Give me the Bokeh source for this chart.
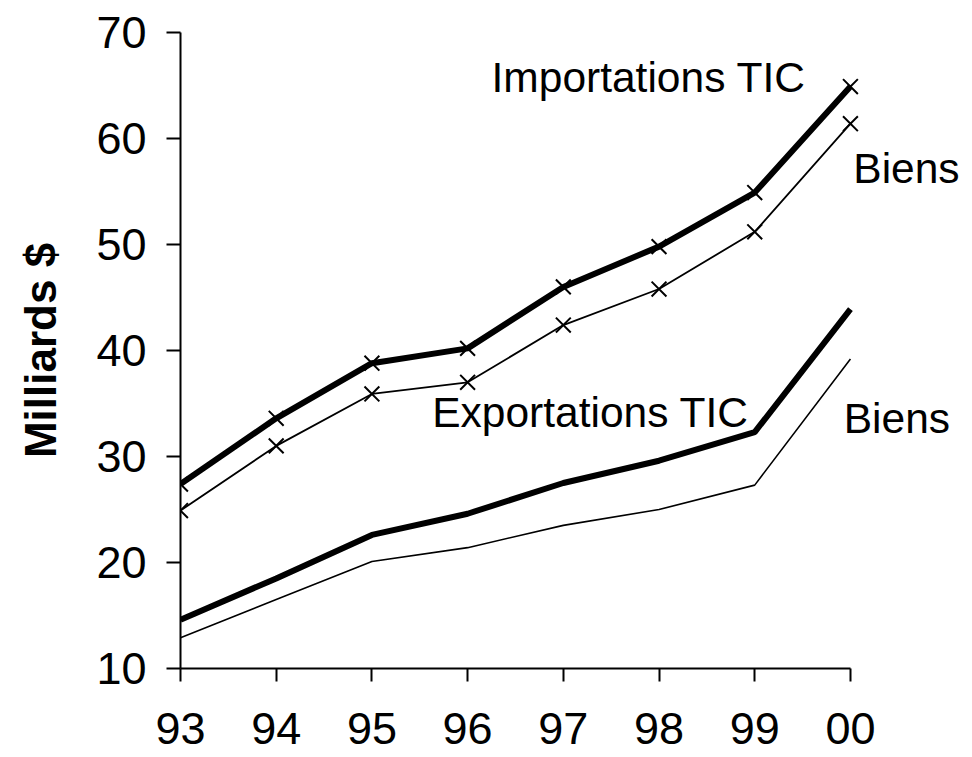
from bokeh.plotting import figure
from bokeh.models import Range1d, FixedTicker, Label
from bokeh.embed import file_html
from bokeh.resources import INLINE

years = ["93", "94", "95", "96", "97", "98", "99", "00"]
imp_tic = [27.4, 33.6, 38.8, 40.2, 46.0, 49.8, 54.9, 64.9]
imp_biens = [24.9, 31.0, 35.9, 37.0, 42.4, 45.8, 51.2, 61.4]
exp_tic = [14.6, 18.5, 22.6, 24.6, 27.5, 29.6, 32.3, 43.9]
exp_biens = [12.9, 16.5, 20.1, 21.4, 23.5, 25.0, 27.3, 39.2]
y_ticks = [10, 20, 30, 40, 50, 60, 70]

label_texts = ["Importations TIC", "Biens", "Exportations TIC", "Biens"]
label_x = [3.25, 7.03, 2.63, 6.93]
label_y = [65.75, 57.2, 34.15, 33.6]

FONT = "Liberation Sans"
xs = list(range(len(years)))

p = figure(width=968, height=755, output_backend="svg", toolbar_location=None,
           x_range=Range1d(0, 8.15), y_range=Range1d(10, 70),
           min_border_left=180, min_border_right=8, min_border_top=32,
           min_border_bottom=87)
p.outline_line_color = None
p.grid.visible = False
p.background_fill_color = "white"

# lines
p.line(xs, imp_tic, line_color="black", line_width=6)
p.line(xs, imp_biens, line_color="black", line_width=1.8)
p.line(xs, exp_tic, line_color="black", line_width=6)
p.line(xs, exp_biens, line_color="black", line_width=1.6)
p.scatter(xs, imp_tic, marker="x", size=21, line_color="black", line_width=2)
p.scatter(xs, imp_biens, marker="x", size=21, line_color="black", line_width=2)

for t, lx, ly in zip(label_texts, label_x, label_y):
    p.add_layout(Label(x=lx, y=ly, text=t, text_font=FONT, text_font_size="42.5px",
                       text_baseline="middle", text_align="left", text_color="black"))

# x axis
xa = p.xaxis[0]
xa.ticker = FixedTicker(ticks=xs)
xa.major_label_overrides = {i: y for i, y in enumerate(years)}
xa.bounds = (0, 7)
xa.axis_line_width = 2
xa.major_tick_in = 0
xa.major_tick_out = 13
xa.major_tick_line_width = 2
xa.minor_tick_line_color = None
xa.major_label_text_font = FONT
xa.major_label_text_font_size = "45px"
xa.major_label_standoff = 31
xa.major_label_text_color = "black"

# y axis
ya = p.yaxis[0]
ya.ticker = FixedTicker(ticks=y_ticks)
ya.bounds = (10, 70)
ya.axis_line_width = 2
ya.major_tick_in = 0
ya.major_tick_out = 14
ya.major_tick_line_width = 2
ya.minor_tick_line_color = None
ya.major_label_text_font = FONT
ya.major_label_text_font_size = "45px"
ya.major_label_standoff = 20
ya.major_label_text_color = "black"
ya.axis_label = "Milliards $"
ya.axis_label_text_font = FONT
ya.axis_label_text_font_size = "44px"
ya.axis_label_text_font_style = "bold"
ya.axis_label_standoff = 28
ya.axis_label_text_color = "black"

open("out.html", "w").write(file_html(p, INLINE))
